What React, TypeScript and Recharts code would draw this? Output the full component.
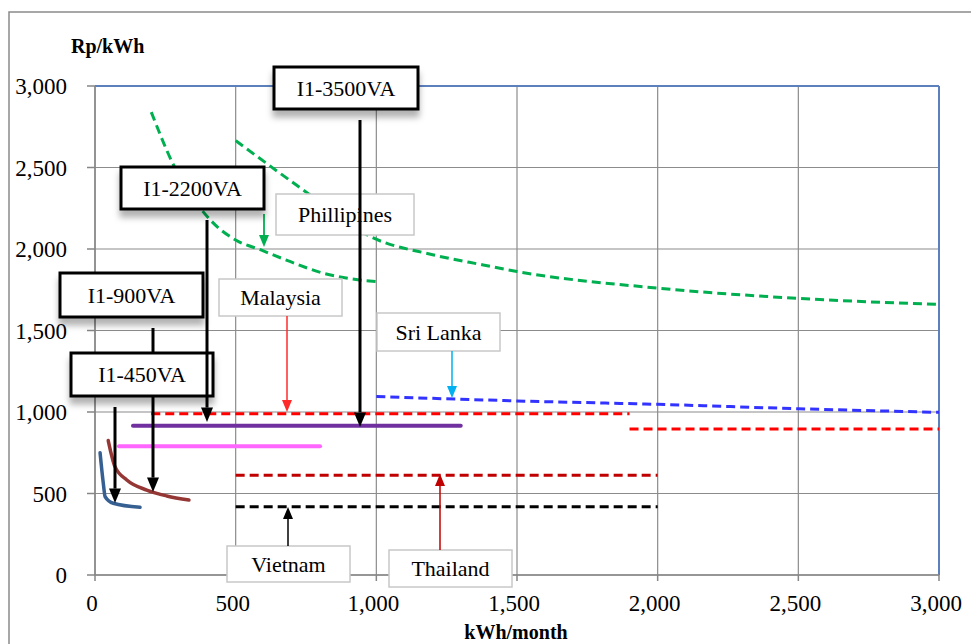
import { LineChart, Line, XAxis, YAxis, CartesianGrid, ReferenceLine } from 'recharts';

const FONT = '"Liberation Serif", "Times New Roman", serif';

const X_TICKS = [0, 500, 1000, 1500, 2000, 2500, 3000];
const Y_TICKS = [0, 500, 1000, 1500, 2000, 2500, 3000];

// Phillipines – two tariff curves
const philLowX = [200, 275, 410, 500, 590, 695, 810, 940, 1000];
const philLowY = [2840, 2530, 2178, 2055, 1994, 1922, 1852, 1810, 1800];
const philHighX = [500, 750, 980, 1200, 1380, 1500, 2000, 2500, 3000];
const philHighY = [2665, 2350, 2075, 1965, 1902, 1862, 1760, 1697, 1660];

// Sri Lanka
const sriX = [1000, 1500, 2000, 2500, 3000];
const sriY = [1095, 1068, 1047, 1020, 998];

// Malaysia – two blocks
const myLowX = [200, 1900];
const myLowY = [990, 990];
const myHighX = [1900, 3000];
const myHighY = [895, 895];

// Thailand, Vietnam
const thX = [500, 2000];
const thY = [612, 612];
const vnX = [500, 2000];
const vnY = [419, 419];

// Indonesia I1 tariffs
const i3500X = [135, 1300];
const i3500Y = [915, 915];
const i2200X = [85, 800];
const i2200Y = [790, 790];
const i900X = [47, 71, 113, 184, 255, 334];
const i900Y = [825, 665, 583, 521, 485, 460];
const i450X = [18, 30, 36, 65, 160];
const i450Y = [750, 555, 480, 440, 415];

const pts = (xs: number[], ys: number[]) => xs.map((x, i) => ({ x, y: ys[i] }));

const fmt = (v: number) => v.toLocaleString('en-US');

type BoxProps = { x: number; y: number; w: number; h: number; text: string };

function BlackBox({ x, y, w, h, text }: BoxProps) {
  return (
    <g>
      <rect x={x} y={y} width={w} height={h} fill="#fff" stroke="#000" strokeWidth={3} filter="url(#shadow)" />
      <text x={x + w / 2} y={y + h / 2 + 7.5} textAnchor="middle" fontSize={22} fontFamily={FONT} fill="#000">
        {text}
      </text>
    </g>
  );
}

function GrayBox({ x, y, w, h, text }: BoxProps) {
  return (
    <g>
      <rect x={x} y={y} width={w} height={h} fill="#fff" stroke="#c8c8c8" strokeWidth={1.5} />
      <text x={x + w / 2} y={y + h / 2 + 7.5} textAnchor="middle" fontSize={22} fontFamily={FONT} fill="#000">
        {text}
      </text>
    </g>
  );
}

// vertical arrow, head at y2
function Arrow({ x, y1, y2, color, width, head }: { x: number; y1: number; y2: number; color: string; width: number; head: number }) {
  const dir = y2 > y1 ? 1 : -1;
  const len = head * 1.2;
  return (
    <g>
      <line x1={x} y1={y1} x2={x} y2={y2 - dir * len} stroke={color} strokeWidth={width} />
      <polygon points={`${x - head / 2},${y2 - dir * len} ${x + head / 2},${y2 - dir * len} ${x},${y2}`} fill={color} />
    </g>
  );
}

export default function App() {
  const dashed = '9 5';
  return (
    <div style={{ position: 'absolute', left: 0, top: 0, width: 971, height: 644, background: '#fff' }}>
      <LineChart width={971} height={644} margin={{ top: 86, right: 32, left: 0, bottom: 29 }}>
        <CartesianGrid stroke="#8c8c8c" strokeWidth={1.2} />
        <XAxis
          type="number"
          dataKey="x"
          domain={[0, 3000]}
          ticks={X_TICKS}
          tickFormatter={fmt}
          height={40}
          stroke="#868686"
          strokeWidth={1.5}
          tickSize={6}
          tickMargin={14}
          tick={{ fill: '#000', fontSize: 23, fontFamily: FONT, dx: -3 }}
        />
        <YAxis
          type="number"
          dataKey="y"
          domain={[0, 3000]}
          ticks={Y_TICKS}
          tickFormatter={fmt}
          width={95}
          stroke="#868686"
          strokeWidth={1.5}
          tickSize={8}
          tickMargin={20}
          tick={{ fill: '#000', fontSize: 23, fontFamily: FONT }}
        />
        <ReferenceLine y={3000} stroke="#5b80bc" strokeWidth={2} />
        <ReferenceLine x={3000} stroke="#5b80bc" strokeWidth={2} />

        <Line data={pts(philLowX, philLowY)} dataKey="y" type="monotone" stroke="#00b050" strokeWidth={3} strokeDasharray={dashed} dot={false} activeDot={false} isAnimationActive={false} />
        <Line data={pts(philHighX, philHighY)} dataKey="y" type="monotone" stroke="#00b050" strokeWidth={3} strokeDasharray={dashed} dot={false} activeDot={false} isAnimationActive={false} />
        <Line data={pts(sriX, sriY)} dataKey="y" type="monotone" stroke="#3333ff" strokeWidth={3} strokeDasharray={dashed} dot={false} activeDot={false} isAnimationActive={false} />
        <Line data={pts(myLowX, myLowY)} dataKey="y" type="linear" stroke="#ff0000" strokeWidth={3} strokeDasharray={dashed} dot={false} activeDot={false} isAnimationActive={false} />
        <Line data={pts(myHighX, myHighY)} dataKey="y" type="linear" stroke="#ff0000" strokeWidth={3} strokeDasharray={dashed} dot={false} activeDot={false} isAnimationActive={false} />
        <Line data={pts(thX, thY)} dataKey="y" type="linear" stroke="#c00000" strokeWidth={3} strokeDasharray={dashed} dot={false} activeDot={false} isAnimationActive={false} />
        <Line data={pts(vnX, vnY)} dataKey="y" type="linear" stroke="#000000" strokeWidth={3} strokeDasharray={dashed} dot={false} activeDot={false} isAnimationActive={false} />
        <Line data={pts(i3500X, i3500Y)} dataKey="y" type="linear" stroke="#7030a0" strokeWidth={4} strokeLinecap="round" dot={false} activeDot={false} isAnimationActive={false} />
        <Line data={pts(i2200X, i2200Y)} dataKey="y" type="linear" stroke="#ff66ff" strokeWidth={4} strokeLinecap="round" dot={false} activeDot={false} isAnimationActive={false} />
        <Line data={pts(i900X, i900Y)} dataKey="y" type="monotone" stroke="#953735" strokeWidth={3.5} strokeLinecap="round" dot={false} activeDot={false} isAnimationActive={false} />
        <Line data={pts(i450X, i450Y)} dataKey="y" type="monotone" stroke="#376092" strokeWidth={3.5} strokeLinecap="round" dot={false} activeDot={false} isAnimationActive={false} />
      </LineChart>

      <svg width={971} height={644} style={{ position: 'absolute', left: 0, top: 0, pointerEvents: 'none' }}>
        <defs>
          <filter id="shadow" x="-20%" y="-20%" width="140%" height="170%">
            <feDropShadow dx="0" dy="7" stdDeviation="3" floodColor="#000" floodOpacity="0.3" />
          </filter>
        </defs>
        <rect x={9} y={12} width={980} height={660} fill="none" stroke="#8a8a8a" strokeWidth={1.5} />

        <text x={71} y={53} fontSize={20} fontWeight="bold" fontFamily={FONT} fill="#000">Rp/kWh</text>
        <text x={516} y={639} fontSize={20} fontWeight="bold" fontFamily={FONT} fill="#000" textAnchor="middle">kWh/month</text>

        <GrayBox x={276} y={194} w={138} h={41} text="Phillipines" />
        <GrayBox x={219} y={279} w={123} h={37} text="Malaysia" />
        <GrayBox x={377} y={313} w={123} h={38} text="Sri Lanka" />
        <GrayBox x={227} y={546} w={123} h={36} text="Vietnam" />
        <GrayBox x={389} y={550} w={123} h={37} text="Thailand" />

        <Arrow x={264} y1={214} y2={247} color="#00b050" width={1.8} head={10} />
        <Arrow x={287} y1={316} y2={412} color="#ff2a2a" width={1.5} head={10} />
        <Arrow x={452} y1={351} y2={398} color="#00b0f0" width={1.5} head={10} />
        <Arrow x={288} y1={546} y2={507} color="#000" width={1.5} head={10} />
        <Arrow x={440} y1={550} y2={474} color="#c00000" width={1.5} head={10} />

        <Arrow x={153} y1={328} y2={492} color="#000" width={3} head={12} />

        <BlackBox x={274} y={67} w={144} h={42} text="I1-3500VA" />
        <BlackBox x={121} y={167} w={143} h={42} text="I1-2200VA" />
        <BlackBox x={60} y={273} w={143} h={44} text="I1-900VA" />
        <BlackBox x={71} y={353} w={142} h={43} text="I1-450VA" />

        <Arrow x={360} y1={120} y2={427} color="#000" width={3} head={12} />
        <Arrow x={207} y1={220} y2={422} color="#000" width={3} head={12} />
        <Arrow x={115} y1={407} y2={503} color="#000" width={3} head={12} />
      </svg>
    </div>
  );
}
